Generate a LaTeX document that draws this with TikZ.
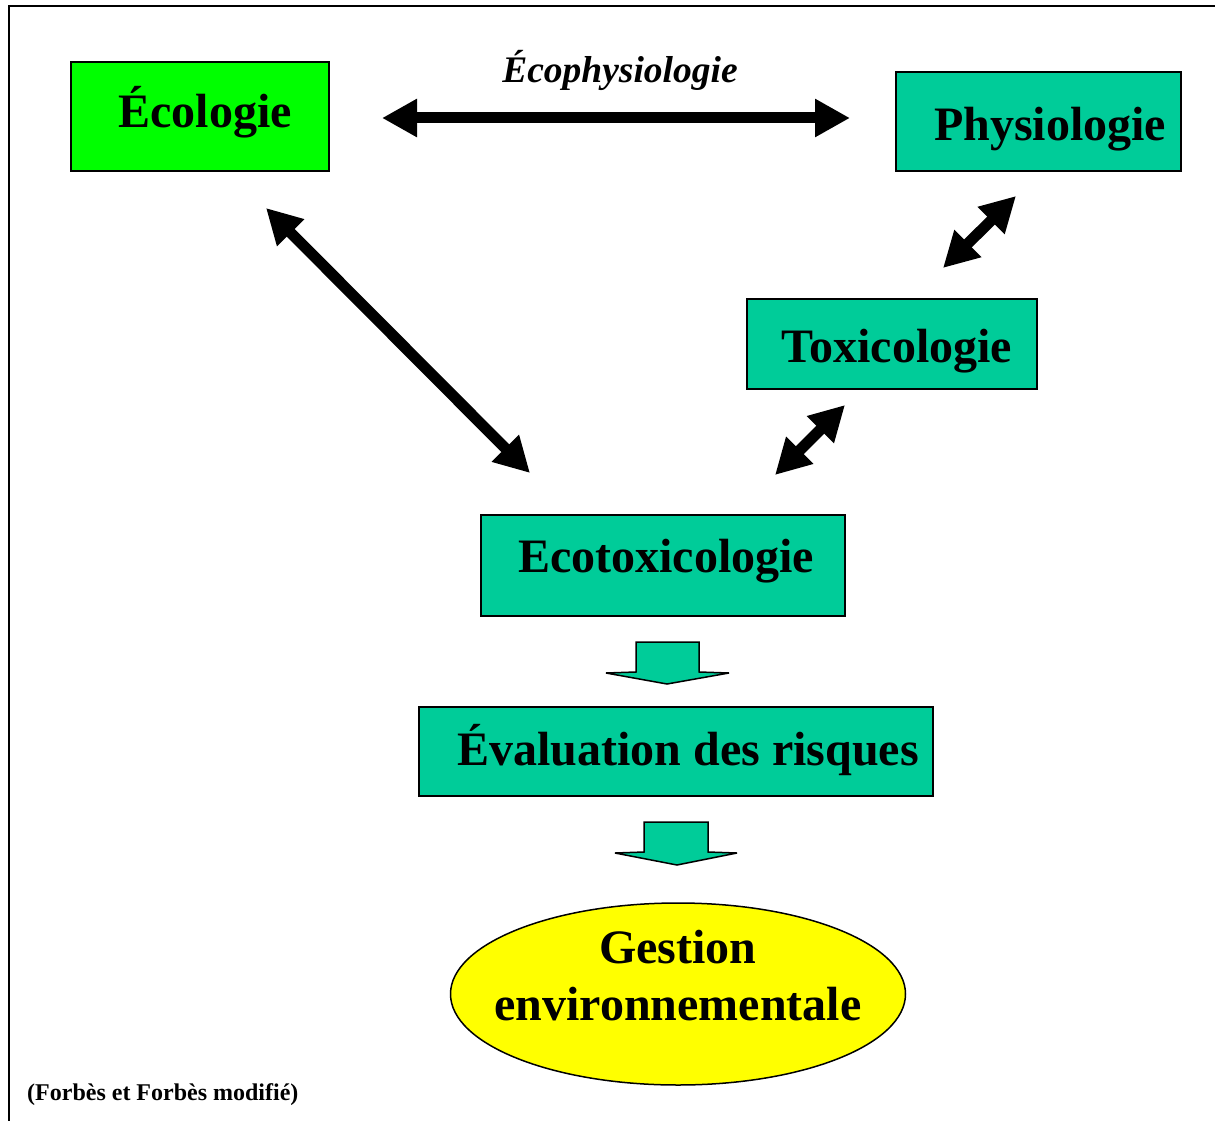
\documentclass[tikz,border=0pt]{standalone}
\usepackage{fontspec}
\setmainfont{Liberation Serif}
\usetikzlibrary{arrows.meta,shapes.geometric}
\definecolor{tealbox}{HTML}{00CC99}
\definecolor{greenbox}{HTML}{00FF00}
\definecolor{yellowbox}{HTML}{FFFF00}
\begin{document}
\begin{tikzpicture}[x=1pt,y=-1pt,
 boxnode/.style={draw=black,line width=2pt,fill=tealbox,inner sep=0pt,anchor=north west},
 big/.style={font=\bfseries\fontsize{48}{52}\selectfont,anchor=base,inner sep=0pt},
 dbl/.style={line width=11pt,{Triangle[length=35pt,width=36pt]}-{Triangle[length=35pt,width=36pt]}},
 blockarrow/.style={draw=black,line width=1.5pt,fill=tealbox,line join=miter,miter limit=1.5}]

\useasboundingbox (0,0) rectangle (1215,1121);
\draw[line width=2pt] (1215,6) -- (9,6) -- (9,1121);

% boxes
\node[boxnode,fill=greenbox,minimum width=258pt,minimum height=109pt] (ecol) at (70,61) {};
\node[boxnode,minimum width=285pt,minimum height=99pt] (phys) at (895,71) {};
\node[boxnode,minimum width=290pt,minimum height=90pt] (toxi) at (746,298) {};
\node[boxnode,minimum width=364pt,minimum height=101pt] (ecot) at (480,514) {};
\node[boxnode,minimum width=514pt,minimum height=89pt] (eval) at (418,706) {};
\node[ellipse,draw,line width=1.5pt,fill=yellowbox,minimum width=455pt,minimum height=182pt,inner sep=0pt] (gest) at (678,994) {};

% texts
\node[big] (ecolT) at (205,128) {Écologie};
\node[big] (physT) at (1050,140) {Physiologie};
\node[big] (toxiT) at (897,362) {Toxicologie};
\node[big] (ecotT) at (666,572) {Ecotoxicologie};
\node[big] (evalT) at (688,765) {Évaluation des risques};
\node[big] (gestT1) at (678,963) {Gestion};
\node[big] (gestT2) at (678,1020) {environnementale};
\node[font=\bfseries\itshape\fontsize{37.5}{40}\selectfont,anchor=base,inner sep=0pt] (ecophys) at (620,83) {Écophysiologie};
\node[font=\bfseries\fontsize{24}{26}\selectfont,anchor=base west,inner sep=0pt] (src) at (27,1100) {(Forbès et Forbès modifié)};

% double arrows
\coordinate (h1) at (382,118); \coordinate (h2) at (850,118);
\coordinate (d1) at (266,208); \coordinate (d2) at (530,473);
\coordinate (p1) at (1016,196); \coordinate (p2) at (943,268);
\coordinate (t1) at (845,405); \coordinate (t2) at (775,475);
\draw[dbl] (h1) -- (h2);
\draw[dbl] (d1) -- (d2);
\draw[dbl] (p1) -- (p2);
\draw[dbl] (t1) -- (t2);

% block arrows
\draw[blockarrow] (636,642) -- (699,642) -- (699,672) -- (729,673) -- (667,684) -- (606,673) -- (636,672) -- cycle;
\draw[blockarrow] (644,822) -- (708,822) -- (708,852) -- (737,853) -- (677,865) -- (615,853) -- (644,852) -- cycle;
\end{tikzpicture}
\end{document}
